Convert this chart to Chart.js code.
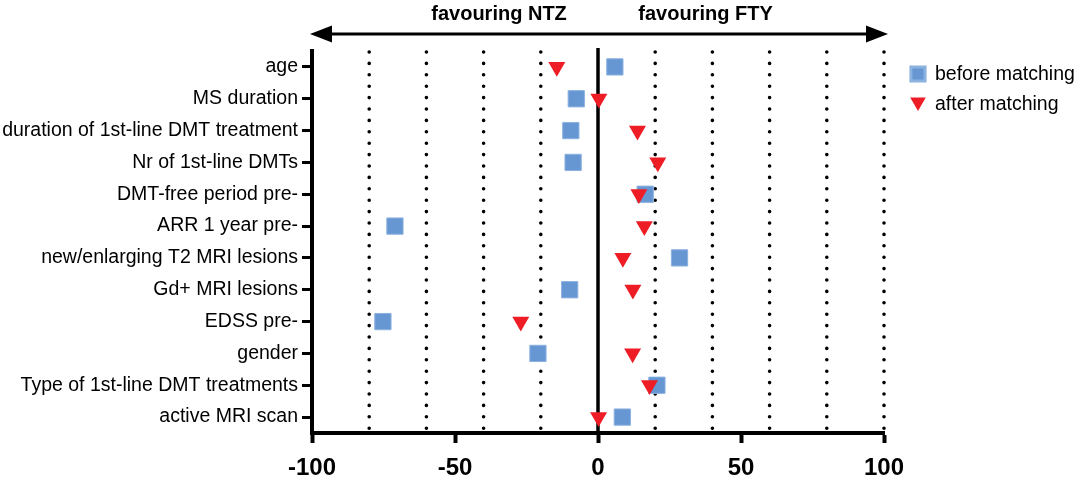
<!DOCTYPE html>
<html><head><meta charset="utf-8">
<script src="https://cdn.jsdelivr.net/npm/chart.js@4/dist/chart.umd.min.js"></script>
<style>html,body{margin:0;padding:0;background:#fff}#wrap{width:1084px;height:480px;position:relative}</style>
</head><body><div id="wrap"><canvas id="c"></canvas></div>
<script>
const categories = ['age','MS duration','duration of 1st-line DMT treatment','Nr of 1st-line DMTs','DMT-free period pre-','ARR 1 year pre-','new/enlarging T2 MRI lesions','Gd+ MRI lesions','EDSS pre-','gender','Type of 1st-line DMT treatments','active MRI scan'];
const beforeMatching = [5.9, -7.6, -9.5, -8.7, 16.5, -71, 28.5, -9.9, -75.2, -21, 20.6, 8.5];
const afterMatching = [-14.4, 0.3, 13.8, 20.9, 14.3, 16.2, 8.7, 12.2, -27, 12.1, 18, 0.2];
const seriesNames = ['before matching', 'after matching'];
const xTickValues = [-100, -50, 0, 50, 100];
const dottedGridValues = [-80, -60, -40, -20, 20, 40, 60, 80, 100];
const directionLabels = ['favouring NTZ', 'favouring FTY'];

const FONT = "'Liberation Sans', Arial, sans-serif";
const BLUE = '#6797d3', BLUE_B = '#8cb2e0', RED = '#ee1c25';

const decorPlugin = {
  id: 'decor',
  beforeDatasetsDraw(chart) {
    const {ctx, chartArea: a, scales: {x}} = chart;
    ctx.save();
    ctx.strokeStyle = '#000';
    ctx.lineWidth = 3.6;
    ctx.lineCap = 'round';
    ctx.setLineDash([0, 11.4]);
    dottedGridValues.forEach(v => {
      const px = x.getPixelForValue(v);
      ctx.beginPath();
      ctx.moveTo(px, a.top + 1);
      ctx.lineTo(px, a.bottom - 2);
      ctx.stroke();
    });
    ctx.setLineDash([]);
    ctx.lineCap = 'butt';
    ctx.lineWidth = 3.5;
    const z = x.getPixelForValue(0);
    ctx.beginPath();
    ctx.moveTo(z, a.top - 3);
    ctx.lineTo(z, a.bottom);
    ctx.stroke();
    ctx.restore();
  },
  afterDraw(chart) {
    const {ctx, chartArea: a, scales: {x}} = chart;
    ctx.save();
    const y = 34, l = a.left - 2, r = a.right + 4, hl = 22, hh = 8.5;
    ctx.strokeStyle = '#000';
    ctx.fillStyle = '#000';
    ctx.lineWidth = 3;
    ctx.beginPath();
    ctx.moveTo(l + hl - 2, y);
    ctx.lineTo(r - hl + 2, y);
    ctx.stroke();
    ctx.beginPath();
    ctx.moveTo(l, y); ctx.lineTo(l + hl, y - hh); ctx.lineTo(l + hl, y + hh); ctx.closePath(); ctx.fill();
    ctx.beginPath();
    ctx.moveTo(r, y); ctx.lineTo(r - hl, y - hh); ctx.lineTo(r - hl, y + hh); ctx.closePath(); ctx.fill();
    ctx.font = 'bold 20px ' + FONT;
    ctx.textAlign = 'center';
    ctx.textBaseline = 'middle';
    ctx.fillText(directionLabels[0], x.getPixelForValue(-34.6), 14);
    ctx.fillText(directionLabels[1], x.getPixelForValue(37.6), 14);
    const items = [
      {ds: chart.data.datasets[0], cy: 74, ty: 75, r: 10},
      {ds: chart.data.datasets[1], cy: 102, ty: 105, r: 9}
    ];
    ctx.font = '19.5px ' + FONT;
    ctx.textAlign = 'left';
    items.forEach(it => {
      ctx.fillStyle = it.ds.backgroundColor;
      ctx.strokeStyle = it.ds.borderColor;
      Chart.helpers.drawPoint(ctx, {pointStyle: it.ds.pointStyle, rotation: it.ds.rotation || 0, radius: it.r, borderWidth: it.ds.borderWidth}, 918, it.cy);
      ctx.fillStyle = '#000';
      ctx.fillText(it.ds.label, 935, it.ty);
    });
    ctx.restore();
  }
};

new Chart(document.getElementById('c'), {
  type: 'scatter',
  data: {
    datasets: [
      {
        label: seriesNames[0],
        data: beforeMatching.map((v, i) => ({x: v, y: categories[i]})),
        pointStyle: 'rect', pointRadius: 11.5, pointHoverRadius: 11.5,
        backgroundColor: BLUE, borderColor: BLUE_B, borderWidth: 1, order: 1
      },
      {
        label: seriesNames[1],
        data: afterMatching.map((v, i) => ({x: v, y: categories[i]})),
        pointStyle: 'triangle', rotation: 180, pointRadius: 9.8, pointHoverRadius: 9.8,
        backgroundColor: RED, borderColor: RED, borderWidth: 0, order: 0
      }
    ]
  },
  options: {
    responsive: true,
    maintainAspectRatio: false,
    animation: false,
    layout: {padding: {top: 51, right: 200, left: 0, bottom: 0}},
    plugins: {legend: {display: false}, tooltip: {enabled: false}},
    scales: {
      x: {
        type: 'linear', min: -100, max: 100,
        afterBuildTicks: s => { s.ticks = xTickValues.map(v => ({value: v})); },
        afterFit: s => { s.height = 47; },
        ticks: {color: '#000', font: {family: FONT, size: 24, weight: 'bold'}, padding: 11, maxRotation: 0},
        grid: {drawOnChartArea: false, drawTicks: true, tickLength: 10, tickWidth: 4, tickColor: '#000', color: '#000'},
        border: {display: true, color: '#000', width: 4}
      },
      y: {
        type: 'category', labels: categories, offset: true,
        afterFit: s => { s.width = 312; },
        ticks: {color: '#000', font: {family: FONT, size: 19.5}, padding: 4},
        grid: {offset: false, drawOnChartArea: false, drawTicks: true, tickLength: 10, tickWidth: 3, tickColor: '#000', color: '#000'},
        border: {display: true, color: '#000', width: 4}
      }
    }
  },
  plugins: [decorPlugin]
});
</script></body></html>
